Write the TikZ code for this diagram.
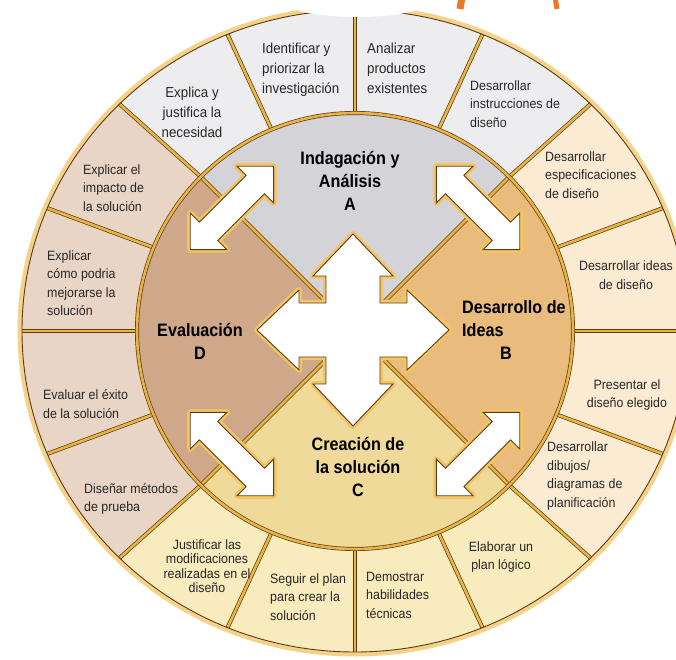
\documentclass[tikz,border=0pt]{standalone}
\usepackage{fontspec}
\newfontfamily\cellfont{Liberation Sans}[FakeStretch=0.92]
\newfontfamily\phasefont{Liberation Sans}[FakeStretch=0.9]

\definecolor{ringA}{HTML}{EDEDEF}
\definecolor{ringB}{HTML}{FCEBD3}
\definecolor{ringC}{HTML}{F8EBBE}
\definecolor{ringD}{HTML}{E9D5C5}
\definecolor{phaseA}{HTML}{D3D3D8}
\definecolor{phaseB}{HTML}{E9BB7C}
\definecolor{phaseC}{HTML}{F0DA9A}
\definecolor{phaseD}{HTML}{CFA789}
\definecolor{goldline}{HTML}{E8B446}
\definecolor{goldglow}{HTML}{F2C462}
\definecolor{edgebrown}{HTML}{5C3A12}
\definecolor{textdark}{HTML}{262626}
\definecolor{titleorange}{HTML}{E8772A}

\tikzset{
  divider/.style={draw=edgebrown, line width=0.7pt, double=goldline, double distance=2.6pt},
  rimglow/.style={draw=goldglow, line width=9pt, opacity=0.75},
  bigarrow/.style={fill=white, draw=edgebrown, line width=0.9pt,
    preaction={draw=goldglow, line width=6pt, line join=round}},
  cell/.style={font=\cellfont\fontsize{13.5}{18.5}\selectfont, text=textdark, inner sep=0pt, align=left},
  topcell/.style={cell, font=\cellfont\fontsize{14.5}{20}\selectfont},
  phase/.style={font=\phasefont\bfseries\fontsize{18}{23}\selectfont, text=black, inner sep=0pt, align=center}
}

\begin{document}
\begin{tikzpicture}[x=1pt, y=1pt]
\useasboundingbox (0,0) rectangle (676,659);
\clip (0,0) rectangle (676,659);
\fill[white] (0,0) rectangle (676,659);

\begin{scope}[shift={(355,328)}]
  % glow round the ring
  \draw[rimglow] (0,0) ellipse[x radius=333, y radius=321];
  % outer ring, four cells per phase
  \foreach \q/\c in {0/ringB, 1/ringA, 2/ringD, 3/ringC}
    \foreach \k in {0,...,3} {
      \pgfmathsetmacro\a{-45+90*\q+22.5*\k}
      \pgfmathsetmacro\b{\a+22.5}
      \fill[\c] (\a:218) arc[start angle=\a, end angle=\b, radius=218]
        -- ({333*cos(\b)},{321*sin(\b)})
        arc[start angle=\b, end angle=\a, x radius=333, y radius=321] -- cycle;
    }
  % inner circle, the four phases
  \foreach \q/\c in {0/phaseB, 1/phaseA, 2/phaseD, 3/phaseC} {
    \pgfmathsetmacro\a{-45+90*\q}
    \pgfmathsetmacro\b{\a+90}
    \fill[\c] (0,0) -- (\a:218) arc[start angle=\a, end angle=\b, radius=218] -- cycle;
  }
  \foreach \a in {0,22.5,...,337.5}
    \draw[divider] (\a:218) -- ({333*cos(\a)},{321*sin(\a)});
  \foreach \a in {45,135,225,315}
    \draw[divider] (0,0) -- (\a:218);
  \draw[divider] (0,0) circle[radius=218];
  \draw[edgebrown, line width=0.9pt] (0,0) ellipse[x radius=333, y radius=321];
  % double arrows between neighbouring phases
  \foreach \p in {45,135,225,315}
    \draw[bigarrow, shift={(\p:174)}, rotate=\p+90]
      (-59,0) -- (-33,26) -- (-33,13) -- (33,13) -- (33,26) -- (59,0)
      -- (33,-26) -- (33,-13) -- (-33,-13) -- (-33,-26) -- cycle;
\end{scope}

% central cross
\begin{scope}[shift={(353,329)}]
  \draw[bigarrow] (27,27) -- (27,54) -- (40,54) -- (0,96) -- (-40,54) -- (-27,54)
    -- (-27,27) -- (-54,27) -- (-54,40) -- (-96,0) -- (-54,-40) -- (-54,-27)
    -- (-27,-27) -- (-27,-54) -- (-40,-54) -- (0,-96) -- (40,-54) -- (27,-54)
    -- (27,-27) -- (54,-27) -- (54,-40) -- (96,0) -- (54,40) -- (54,27) -- cycle;
\end{scope}

% cropped title above the ring
\fill[white] (357,665) ellipse[x radius=85, y radius=23];
\draw[titleorange, line width=7pt] (462,662) -- (460,650);
\draw[titleorange, line width=5pt] (555,662) -- (557,650);

% phases
\node[phase] (phA) at (350,478) {Indagación y\\Análisis\\A};
\node[phase, anchor=west, align=left] (phB) at (462,329) {Desarrollo de\\Ideas\\\hspace*{38pt}B};
\node[phase] (phC) at (358,192) {Creación de\\la solución\\C};
\node[phase] (phD) at (200,318) {Evaluación\\D};

% ring cells
\node[topcell, align=center] (cExplica) at (192,547) {Explica y\\justifica la\\necesidad};
\node[topcell, anchor=west] (cIdent) at (262,589) {Identificar y\\priorizar la\\investigación};
\node[topcell, anchor=west] (cAnal) at (367,591) {Analizar\\productos\\existentes};
\node[cell, anchor=west] (cInstr) at (470,555) {Desarrollar\\instrucciones de\\diseño};
\node[cell, anchor=west] (cEspec) at (545,484) {Desarrollar\\especificaciones\\de diseño};
\node[cell, align=center] (cIdeas) at (626,384) {Desarrollar ideas\\de diseño};
\node[cell, align=center] (cPresent) at (627,264) {Presentar el\\diseño elegido};
\node[cell, anchor=west] (cDibujos) at (547,183) {Desarrollar\\dibujos/\\diagramas de\\planificación};
\node[cell, align=center] (cPlan) at (501,102) {Elaborar un\\plan lógico};
\node[cell, anchor=west] (cDemo) at (366,64) {Demostrar\\habilidades\\técnicas};
\node[cell, anchor=west] (cSeguir) at (270,62) {Seguir el plan\\para crear la\\solución};
\node[cell, align=center, font=\cellfont\fontsize{13.5}{14.5}\selectfont] (cJustif) at (207,93) {Justificar las\\modificaciones\\realizadas en el\\diseño};
\node[cell, anchor=west] (cMetodos) at (84,160) {Diseñar métodos\\ de prueba};
\node[cell, anchor=west] (cExito) at (43,255) {Evaluar el éxito\\de la solución};
\node[cell, anchor=west] (cComo) at (47,376) {Explicar\\cómo podria\\mejorarse la\\solución};
\node[cell, anchor=west] (cImpacto) at (83,471) {Explicar el\\impacto de\\la solución};
\end{tikzpicture}
\end{document}
